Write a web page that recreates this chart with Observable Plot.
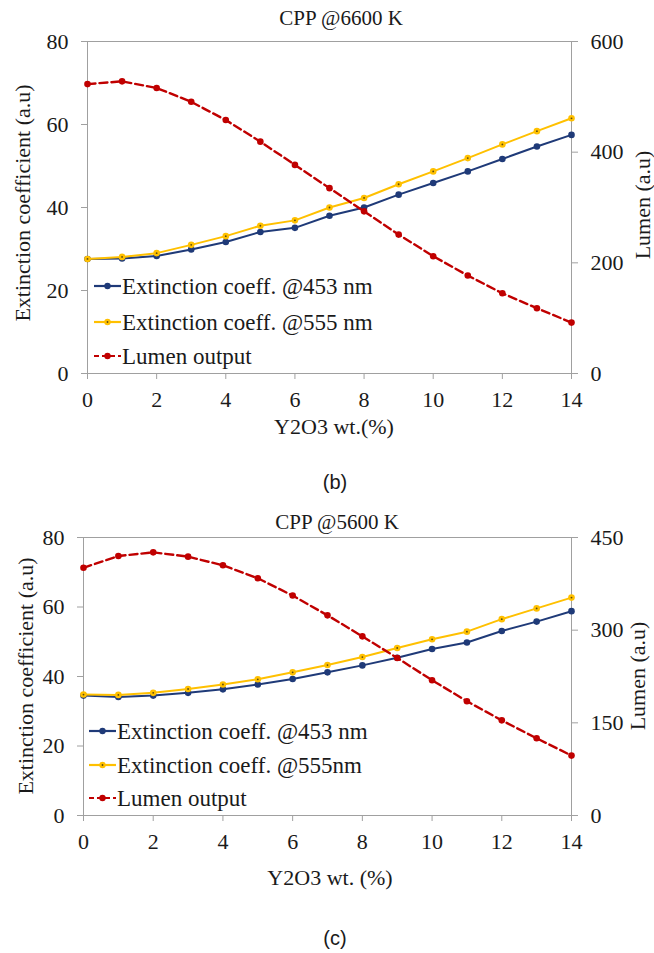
<!DOCTYPE html>
<html><head><meta charset="utf-8">
<script src="https://cdn.jsdelivr.net/npm/d3@7"></script>
<script src="https://cdn.jsdelivr.net/npm/@observablehq/plot@0.6"></script>
<style>
body{margin:0;background:#fff;}
#wrap{position:relative;width:654px;height:953px;overflow:hidden;font-family:"Liberation Serif","Tinos","Times New Roman","Times","DejaVu Serif","Noto Serif",serif;color:#1a1a1a;background:#fff}
.t{position:absolute;white-space:nowrap;transform:translate(-50%,-50%);line-height:1}
.rot{transform:translate(-50%,-50%) rotate(-90deg);}
.sans{font-family:"Liberation Sans",Arial,sans-serif;}
.abs{position:absolute;left:0;}
</style></head>
<body><div id="wrap"></div>
<script>
// ---- data ----
const xVals = [0,1,2,3,4,5,6,7,8,9,10,11,12,13,14];
const b453 = [27.6,27.7,28.3,29.9,31.7,34.1,35.1,38.0,40.0,43.1,45.9,48.7,51.7,54.7,57.5];
const b555 = [27.6,28.1,29.0,31.0,33.1,35.6,36.9,40.0,42.3,45.6,48.7,51.9,55.2,58.4,61.5];
const bLumen = [523,528,516,491,458,419,377,335,293,251,212,177,145,118,92];
const c453 = [34.5,34.1,34.5,35.3,36.3,37.7,39.3,41.2,43.2,45.4,47.9,49.8,53.1,55.8,58.8];
const c555 = [34.8,34.7,35.3,36.4,37.7,39.2,41.2,43.3,45.6,48.2,50.7,52.9,56.5,59.6,62.7];
const cLumen = [401,420,426,419,405,384,356,324,290,255,219,185,154,125,97];
const xTicks = [0,2,4,6,8,10,12,14];
const leftTicks = [0,20,40,60,80];
const bRightTicks = [0,200,400,600];
const cRightTicks = [0,150,300,450];
const seriesNames = ["Extinction coeff. @453 nm","Extinction coeff. @555 nm","Lumen output"];
const seriesNamesC = ["Extinction coeff. @453 nm","Extinction coeff. @555nm","Lumen output"];
const NAVY = "#1f3a78", YEL = "#ffc000", RED = "#c00000", AX = "#a0a0a0";
const SERIF = "'Liberation Serif', Tinos, 'Times New Roman', Times, 'DejaVu Serif', 'Noto Serif', serif";

const wrap = document.getElementById("wrap");
function txt(s, x, y, size, cls="") {
  const d = document.createElement("div");
  d.className = "t " + cls; d.textContent = s;
  d.style.left = x + "px"; d.style.top = y + "px"; d.style.fontSize = size + "px";
  wrap.appendChild(d);
}

function panel({top, height, mL, mR, mT, mB, e453, e555, lumen, rightMax, rightTicks}) {
  const toLeft = v => v * 80 / rightMax;
  const rows = xVals.map((x,i) => ({x, a: e453[i], b: e555[i], l: toLeft(lumen[i])}));
  const p = Plot.plot({
    width: 654, height,
    marginLeft: mL, marginRight: mR, marginTop: mT, marginBottom: mB,
    style: {fontFamily: SERIF, fontSize: "22px", color: "#1a1a1a", background: "#fff"},
    x: {domain: [0,14]},
    y: {domain: [0,80]},
    marks: [
      Plot.frame({stroke: AX}),
      Plot.axisX({ticks: xTicks, tickSize: 6, tickPadding: 12, label: null, stroke: AX, fill: "#1a1a1a", fontSize: 22}),
      Plot.axisY({anchor: "left", ticks: leftTicks, tickSize: 6, tickPadding: 13, label: null, stroke: AX, fill: "#1a1a1a", fontSize: 22}),
      Plot.axisY({anchor: "right", ticks: rightTicks.map(toLeft), tickFormat: d => String(Math.round(d * rightMax / 80)), tickSize: 6, tickPadding: 13, label: null, stroke: AX, fill: "#1a1a1a", fontSize: 22}),
      Plot.line(rows, {x: "x", y: "a", stroke: NAVY, strokeWidth: 2}),
      Plot.dot(rows, {x: "x", y: "a", fill: NAVY, r: 3.3}),
      Plot.line(rows, {x: "x", y: "b", stroke: YEL, strokeWidth: 2}),
      Plot.dot(rows, {x: "x", y: "b", fill: YEL, r: 3.3}),
      Plot.dot(rows, {x: "x", y: "b", fill: "#5a4a10", r: 0.9}),
      Plot.line(rows, {x: "x", y: "l", stroke: RED, strokeWidth: 2.4, strokeDasharray: "8,4"}),
      Plot.dot(rows, {x: "x", y: "l", fill: RED, r: 3.3})
    ]
  });
  p.classList.add("abs");
  p.style.top = top + "px";
  wrap.appendChild(p);
}

function legend(x0, ys, names, size) {
  const svg = d3.create("svg").attr("width", 654).attr("height", 953)
    .style("position","absolute").style("left","0").style("top","0").style("overflow","visible");
  const specs = [{c: NAVY, dash: null, inner: false},{c: YEL, dash: null, inner: true},{c: RED, dash: "5,3", inner: false}];
  specs.forEach((s,i) => {
    const y = ys[i];
    svg.append("line").attr("x1", x0).attr("x2", x0+27).attr("y1", y).attr("y2", y)
      .attr("stroke", s.c).attr("stroke-width", 2.2).attr("stroke-dasharray", s.dash);
    svg.append("circle").attr("cx", x0+13.5).attr("cy", y).attr("r", 3.2).attr("fill", s.c);
    if (s.inner) svg.append("circle").attr("cx", x0+13.5).attr("cy", y).attr("r", 0.9).attr("fill", "#5a4a10");
    svg.append("text").attr("x", x0+28).attr("y", y).attr("dy", "0.35em")
      .style("font-family", SERIF).attr("font-size", size)
      .attr("fill", "#1a1a1a").text(names[i]);
  });
  wrap.appendChild(svg.node());
}

// panel (b)
panel({top: 0, height: 450, mL: 87, mR: 83, mT: 41, mB: 77, e453: b453, e555: b555, lumen: bLumen, rightMax: 600, rightTicks: bRightTicks});
// panel (c)
panel({top: 480, height: 400, mL: 83, mR: 83, mT: 57, mB: 65, e453: c453, e555: c555, lumen: cLumen, rightMax: 450, rightTicks: cRightTicks});

legend(94, [286, 322, 356], seriesNames, 23);
legend(89, [731, 765, 798], seriesNamesC, 23);

txt("CPP @6600 K", 341, 18, 21);
txt("CPP @5600 K", 337, 522, 21);
txt("Y2O3 wt.(%)", 334, 427, 22);
txt("Y2O3 wt. (%)", 330, 878, 22);
txt("Extinction coefficient  (a.u)", 23, 203, 22, "rot");
txt("Lumen (a.u)", 643, 205, 22, "rot");
txt("Extinction coefficient  (a.u)", 26, 676, 22, "rot");
txt("Lumen (a.u)", 638, 676, 22, "rot");
txt("(b)", 335, 482, 20, "sans");
txt("(c)", 335, 938, 20, "sans");
</script></body></html>
